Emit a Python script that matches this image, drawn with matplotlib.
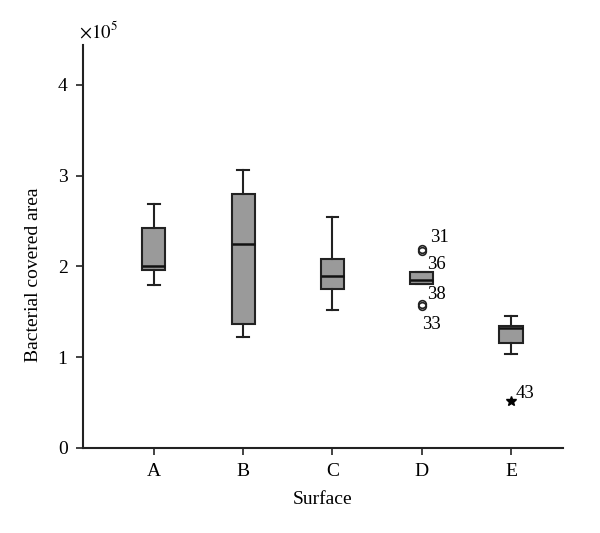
import numpy as np
import matplotlib
matplotlib.use("Agg")
import matplotlib.pyplot as plt

plt.rcParams['font.family'] = ['Liberation Serif', 'DejaVu Serif']

# Box statistics (values in units of 1e5)
surfaces = ['A', 'B', 'C', 'D', 'E']
whis_low = [1.80, 1.22, 1.52, 1.81, 1.04]
q1 = [1.96, 1.37, 1.75, 1.81, 1.16]
medians = [2.00, 2.25, 1.89, 1.85, 1.32]
q3 = [2.42, 2.80, 2.08, 1.94, 1.34]
whis_high = [2.69, 3.06, 2.55, 1.94, 1.45]

# Outliers (circles) and extremes (stars)
outlier_group = ['D', 'D', 'D', 'D']
outlier_vals = [2.195, 2.17, 1.585, 1.56]
outlier_ids = ['31', '36', '38', '33']
extreme_group = ['E']
extreme_vals = [0.52]
extreme_ids = ['43']

stats = []
for i, s in enumerate(surfaces):
    stats.append(dict(label=s, whislo=whis_low[i], q1=q1[i], med=medians[i],
                      q3=q3[i], whishi=whis_high[i], fliers=[]))

fig = plt.figure(figsize=(6, 5.33), dpi=100)
ax = fig.add_axes([0.138, 0.1595, 0.8, 0.756])

pos = np.arange(1, len(surfaces) + 1)
ax.bxp(stats, positions=pos, widths=0.26, patch_artist=True, showfliers=False,
       boxprops=dict(facecolor='#9a9a9a', edgecolor='#222222', linewidth=1.5),
       medianprops=dict(color='#111111', linewidth=1.8),
       whiskerprops=dict(color='#222222', linewidth=1.5),
       capprops=dict(color='#222222', linewidth=1.5), capwidths=0.13)

# outliers
ox = [pos[surfaces.index(g)] for g in outlier_group]
ax.plot(ox, outlier_vals, 'o', mfc='none', mec='#222222', ms=5.5, mew=1.2)
offsets = [(6, 5), (4, -13), (4, 4), (0, -16)]
for x, y, t, off in zip(ox, outlier_vals, outlier_ids, offsets):
    ax.annotate(t, (x, y), xytext=off, textcoords='offset points', fontsize=13.5)

ex = [pos[surfaces.index(g)] for g in extreme_group]
ax.plot(ex, extreme_vals, '*', color='black', ms=7)
for x, y, t in zip(ex, extreme_vals, extreme_ids):
    ax.annotate(t, (x, y), xytext=(3, 2), textcoords='offset points', fontsize=13.5)

ax.set_xlim(0.204, 5.58)
ax.set_ylim(0, 4.44)
ax.set_xticks(pos)
ax.set_xticklabels(surfaces, fontsize=14)
ax.set_yticks([0, 1, 2, 3, 4])
ax.set_yticklabels(['0', '1', '2', '3', '4'], fontsize=14)
ax.tick_params(direction='out', length=5, width=1.2, color='#222222', pad=6)

for side in ['top', 'right']:
    ax.spines[side].set_visible(False)
for side in ['left', 'bottom']:
    ax.spines[side].set_linewidth(1.5)
    ax.spines[side].set_color('#222222')

ax.set_xlabel('Surface', fontsize=14, labelpad=8)
ax.set_ylabel('Bacterial covered area', fontsize=14)
ax.yaxis.set_label_coords(-0.085, 0.43)
fig.text(0.132, 0.922, r'$\times 10^5$', fontsize=13.5, ha='left', va='bottom',
         math_fontfamily='stix')

fig.savefig('out.png', dpi=100)
